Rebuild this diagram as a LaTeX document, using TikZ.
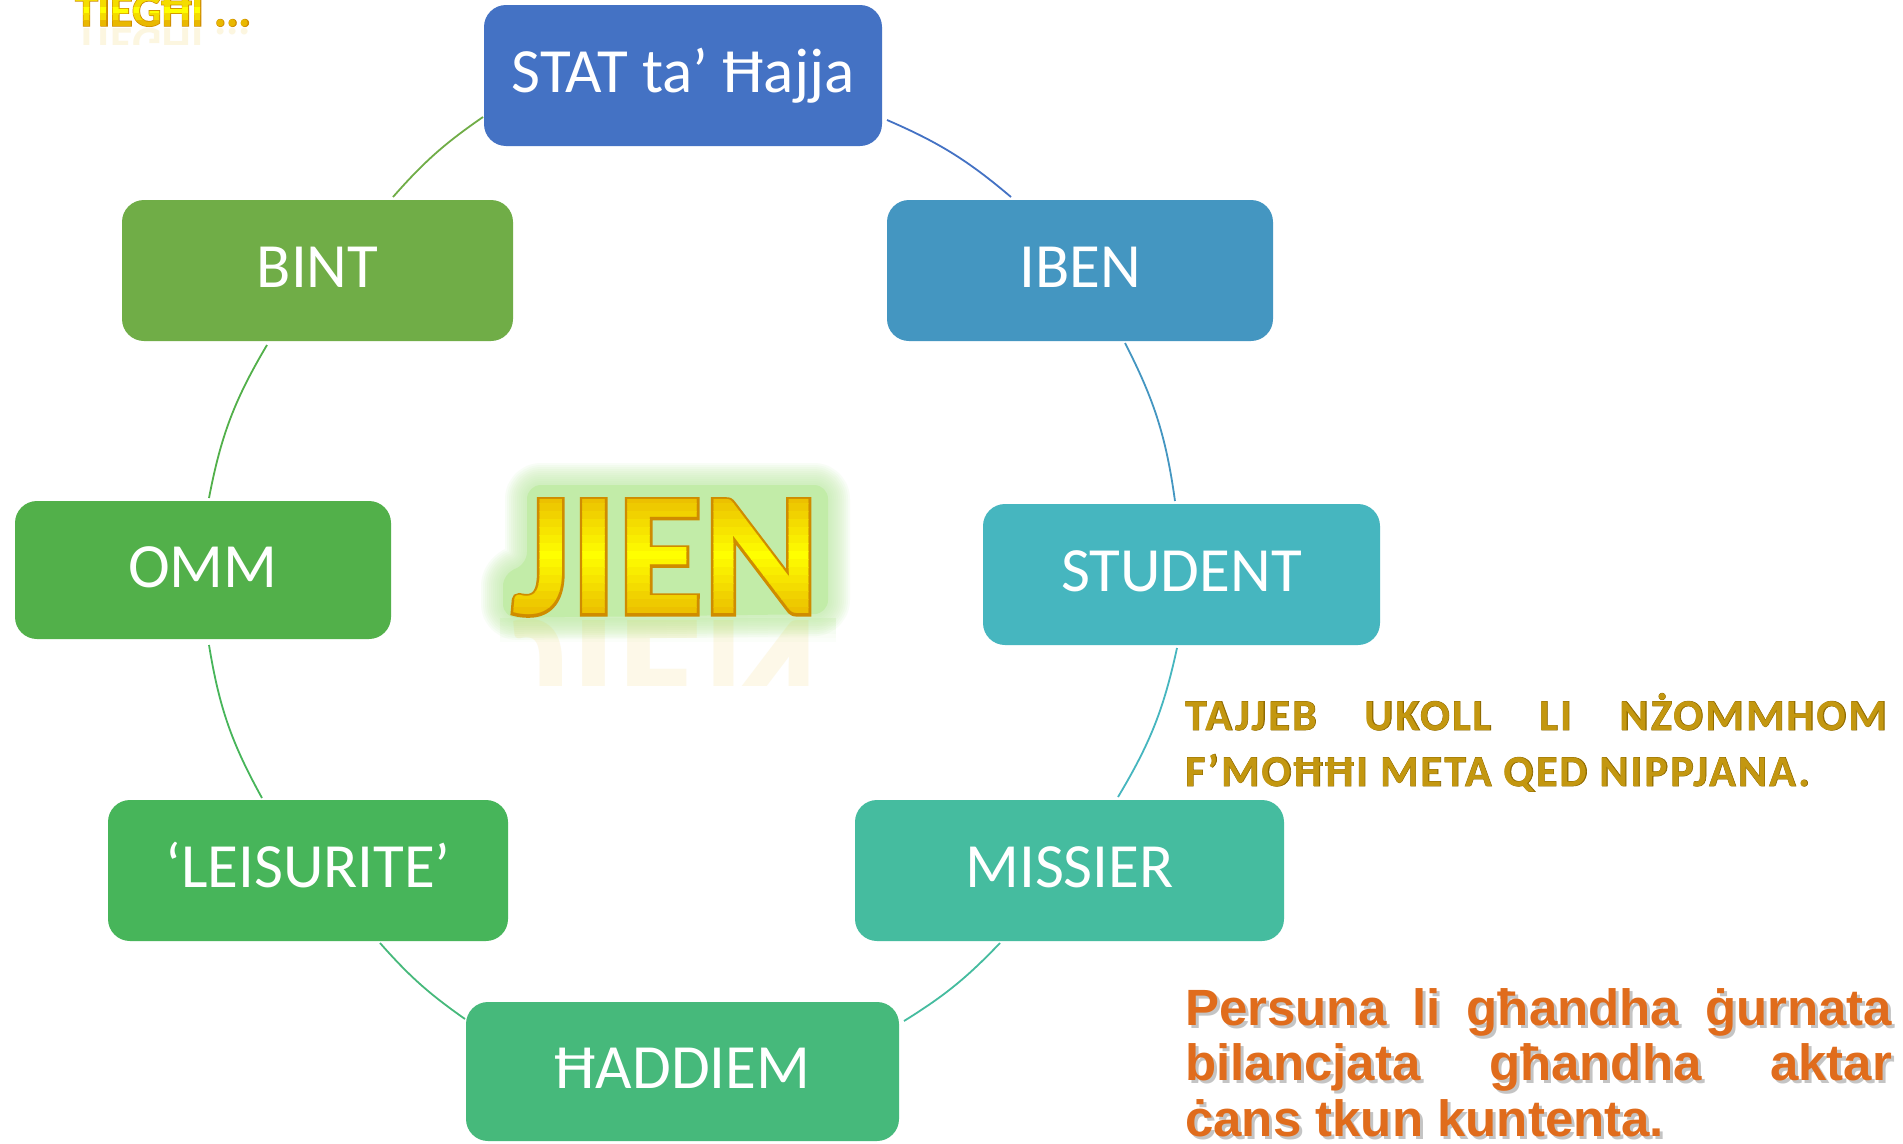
\documentclass[tikz,border=0pt]{standalone}
\usepackage{fontspec}
\newfontfamily\carlito{Carlito}
\newfontfamily\carlitoFB{Carlito Bold}[FakeBold=3]
\newfontfamily\carlitoLS{Carlito}[LetterSpace=5]
\newfontfamily\carlitoLSFB{Carlito Bold}[LetterSpace=5,FakeBold=1.5]
\newfontfamily\libsans{Liberation Sans}
\usetikzlibrary{calc}
\definecolor{cStat}{HTML}{4472C4}
\definecolor{cIben}{HTML}{4496C1}
\definecolor{cStudent}{HTML}{46B6BF}
\definecolor{cMissier}{HTML}{45BC9F}
\definecolor{cHaddiem}{HTML}{46B97B}
\definecolor{cLeis}{HTML}{47B55A}
\definecolor{cOmm}{HTML}{52B04A}
\definecolor{cBint}{HTML}{70AD47}
\definecolor{glowgreen}{HTML}{C2ECA8}
\definecolor{goldEdge}{HTML}{E9B800}
\definecolor{goldMid}{HTML}{FFFF00}
\definecolor{goldLine}{HTML}{CF8C00}
\definecolor{tajFill}{HTML}{C39710}
\definecolor{tajDark}{HTML}{8F6A00}
\definecolor{persFill}{HTML}{E06C1C}
\definecolor{persShadow}{HTML}{8A8A8A}
\newcommand\persA{\makebox[707pt][s]{Persuna li għandha ġurnata}}
\newcommand\persB{\makebox[707pt][s]{bilancjata għandha aktar}}
\newcommand\persC{ċans tkun kuntenta.}
\newcommand\tajA{\makebox[702pt][s]{TAJJEB UKOLL LI NŻOMMHOM}}
\newcommand\tajB{F’MOĦĦI META QED NIPPJANA.}
\begin{document}
\begin{tikzpicture}[x=1pt,y=-1pt,
  cyc/.style={rounded corners=22pt, text=white, inner sep=0pt, text height=40pt, text depth=6pt,
    font=\carlito\fontsize{63}{70}\selectfont},
  conn/.style={line width=1.8pt},
  jienfont/.style={inner sep=0pt, font=\carlito\bfseries\fontsize{176}{176}\selectfont},
  jienline/.style={inner sep=0pt, font=\carlitoFB\fontsize{176}{176}\selectfont},
  tiefont/.style={inner sep=0pt, anchor=base west, font=\carlito\bfseries\fontsize{46}{46}\selectfont},
  tieline/.style={inner sep=0pt, anchor=base west, font=\carlitoFB\fontsize{46}{46}\selectfont},
  tajfont/.style={inner sep=0pt, anchor=base west, font=\carlitoLS\bfseries\fontsize{44}{44}\selectfont},
  tajline/.style={inner sep=0pt, anchor=base west, font=\carlitoLSFB\fontsize{44}{44}\selectfont},
  persfont/.style={inner sep=0pt, anchor=base west, font=\libsans\bfseries\fontsize{51}{51}\selectfont},
]
\fill[white] (0,0) rectangle (1903,1143);
\useasboundingbox (0,0) rectangle (1903,1143);

% cycle boxes
\node[cyc, fill=cStat, minimum width=398pt, minimum height=141pt] (stat) at (683,75.5) {STAT ta’ Ħajja};
\node[cyc, fill=cIben, minimum width=386pt, minimum height=141pt] (iben) at (1080,270.5) {IBEN};
\node[cyc, fill=cStudent, minimum width=397pt, minimum height=141pt] (student) at (1181.5,574.5) {STUDENT};
\node[cyc, fill=cMissier, minimum width=429pt, minimum height=141pt] (missier) at (1069.5,870.5) {MISSIER};
\node[cyc, fill=cHaddiem, minimum width=433pt, minimum height=139pt] (haddiem) at (682.5,1071.5) {ĦADDIEM};
\node[cyc, fill=cLeis, minimum width=400pt, minimum height=141pt] (leis) at (308,870.5) {‘LEISURITE’};
\node[cyc, fill=cOmm, minimum width=376pt, minimum height=138pt] (omm) at (203,570) {OMM};
\node[cyc, fill=cBint, minimum width=391pt, minimum height=141pt] (bint) at (317.5,270.5) {BINT};

% arc end points
\coordinate (a1s) at ($(stat)+(204,44.5)$);
\coordinate (a1e) at ($(iben)+(-69,-73.5)$);
\coordinate (a2s) at ($(iben)+(45,72.5)$);
\coordinate (a2e) at ($(student)+(-6.5,-73.5)$);
\coordinate (a3s) at ($(student)+(-4.5,73.5)$);
\coordinate (a3e) at ($(missier)+(48.5,-73.5)$);
\coordinate (a4s) at ($(missier)+(-69.5,72.5)$);
\coordinate (a4e) at ($(haddiem)+(221.5,-50.5)$);
\coordinate (a5s) at ($(haddiem)+(-217.5,-52.5)$);
\coordinate (a5e) at ($(leis)+(72,72.5)$);
\coordinate (a6s) at ($(leis)+(-46,-72.5)$);
\coordinate (a6e) at ($(omm)+(6,75)$);
\coordinate (a7s) at ($(omm)+(6,-72)$);
\coordinate (a7e) at ($(bint)+(-50.5,74.5)$);
\coordinate (a8s) at ($(bint)+(75.5,-73.5)$);
\coordinate (a8e) at ($(stat)+(-200,41.5)$);
\draw[conn, cStat] (a1s) to[bend left=8.4] (a1e);
\draw[conn, cIben] (a2s) to[bend left=9.6] (a2e);
\draw[conn, cStudent] (a3s) to[bend left=9.3] (a3e);
\draw[conn, cMissier] (a4s) to[bend left=7.2] (a4e);
\draw[conn, cHaddiem] (a5s) to[bend left=6.7] (a5e);
\draw[conn, cLeis] (a6s) to[bend left=9.8] (a6e);
\draw[conn, cOmm] (a7s) to[bend left=9.9] (a7e);
\draw[conn, cBint] (a8s) to[bend left=7.0] (a8e);

% JIEN word art: soft glow, reflection, outline, banded gradient fill
\foreach \w in {44,40,...,4}{
  \draw[glowgreen, opacity=0.1, line width=\w pt, line join=round, rounded corners=14pt]
    (527,485) -- (828,485) -- (828,614) -- (503,618) -- (503,572) -- (527,566) -- cycle;}
\fill[glowgreen, rounded corners=14pt]
    (527,485) -- (828,485) -- (828,614) -- (503,618) -- (503,572) -- (527,566) -- cycle;
\foreach \i in {0,...,5}{
  \fill[glowgreen, opacity=0.3-0.05*\i] (500,618+4*\i) rectangle (836,622+4*\i);}
\begin{scope}
  \clip (480,617) rectangle (860,685);
  \node[jienfont, text=goldEdge, text opacity=0.09, anchor=north] (jienrefl) at (665.5,619) {\scalebox{1}[-1]{JIEN}};
\end{scope}
\coordinate (jc) at (665.5,557.5);
\node[jienline, text=goldLine] (jienout) at (jc) {JIEN};
\foreach \i in {0,...,15}{
  \pgfmathsetmacro\yA{495+\i*8}
  \pgfmathtruncatemacro\p{100-100*abs(\i-7)/8}
  \begin{scope}
    \clip (480,\yA) rectangle (860,\yA+8.5);
    \node[jienfont, text=goldMid!\p!goldEdge, name=jb\i] at (jc) {JIEN};
  \end{scope}}

% TIEGHI word art
\begin{scope}
  \clip (60,27) rectangle (270,44);
  \node[tiefont, anchor=north west, text=goldEdge, text opacity=0.12] (tierefl) at (75,28) {\scalebox{1}[-1]{TIEGĦI ...}};
\end{scope}
\node[tieline, text=goldLine] (tieout) at (75,26) {TIEGĦI ...};
\foreach \i in {0,...,4}{
  \pgfmathsetmacro\yA{-6+\i*6.5}
  \pgfmathtruncatemacro\p{100-100*abs(\i-2)/2}
  \begin{scope}
    \clip (60,\yA) rectangle (270,\yA+7);
    \node[tiefont, text=goldMid!\p!goldEdge, name=tb\i] at (75,26) {TIEGĦI ...};
  \end{scope}}

% TAJJEB text
\node[tajline, text=tajDark] (tajAout) at (1185,730) {\tajA};
\node[tajline, text=tajDark] (tajBout) at (1185,786) {\tajB};
\node[tajfont, text=tajFill] (tajA) at (1185,730) {\tajA};
\node[tajfont, text=tajFill] (tajB) at (1185,786) {\tajB};

% Persuna text
\node[persfont, text=persShadow, text opacity=0.5] (persAs) at (1188,1028) {\persA};
\node[persfont, text=persShadow, text opacity=0.5] (persBs) at (1188,1083) {\persB};
\node[persfont, text=persShadow, text opacity=0.5] (persCs) at (1188,1139) {\persC};
\node[persfont, text=persFill] (persA) at (1185,1025) {\persA};
\node[persfont, text=persFill] (persB) at (1185,1080) {\persB};
\node[persfont, text=persFill] (persC) at (1185,1136) {\persC};
\end{tikzpicture}
\end{document}
